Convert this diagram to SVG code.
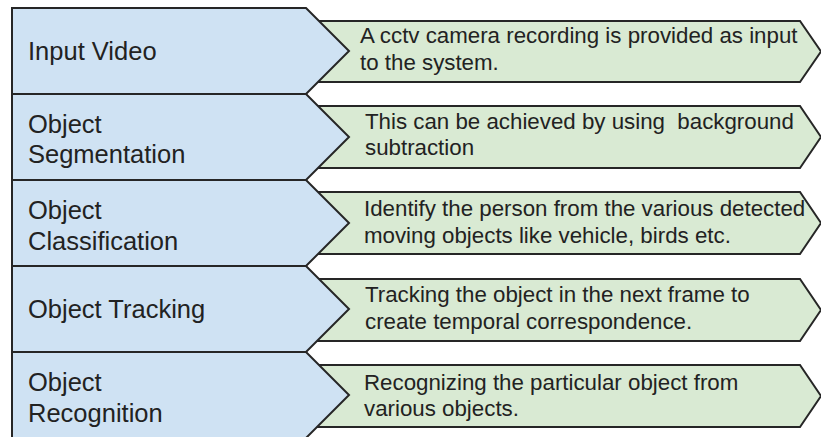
<svg xmlns="http://www.w3.org/2000/svg" width="821" height="437" viewBox="0 0 821 437">
<style>
.blue{fill:#cfe2f3;stroke:#262626;stroke-width:2;stroke-linejoin:miter}
.green{fill:#d9ead3;stroke:#262626;stroke-width:2;stroke-linejoin:miter}
.lbl{font-family:"Liberation Sans",Arial,sans-serif;font-size:25.5px;fill:#222}
.desc{font-family:"Liberation Sans",Arial,sans-serif;font-size:22.3px;fill:#222}
</style>
<rect width="821" height="437" fill="#ffffff"/>
<g id="connectors"></g>
<g id="desc1"><polygon class="green" points="300,21 800,21 821,51.5 800,82 300,82"/><text class="desc" x="360" y="43">A cctv camera recording is provided as input</text><text class="desc" x="360" y="70">to the system.</text></g>
<g id="desc2"><polygon class="green" points="300,106 800,106 821,137 800,168 300,168"/><text class="desc" x="365" y="129">This can be achieved by using &#160;background</text><text class="desc" x="365" y="155">subtraction</text></g>
<g id="desc3"><polygon class="green" points="300,192 800,192 821,223 800,254 300,254"/><text class="desc" x="364" y="216">Identify the person from the various detected</text><text class="desc" x="364" y="243">moving objects like vehicle, birds etc.</text></g>
<g id="desc4"><polygon class="green" points="300,279 800,279 821,310 800,341 300,341"/><text class="desc" x="365" y="302">Tracking the object in the next frame to</text><text class="desc" x="365" y="329">create temporal correspondence.</text></g>
<g id="desc5"><polygon class="green" points="300,365 800,365 821,396 800,427 300,427"/><text class="desc" x="364" y="390">Recognizing the particular object from</text><text class="desc" x="364" y="416">various objects.</text></g>
<g id="step1"><polygon class="blue" points="12,8 306,8 349,51 306,94 12,94"/><text class="lbl" x="28" y="60">Input Video</text></g>
<g id="step2"><polygon class="blue" points="12,94 306,94 349,137 306,180 12,180"/><text class="lbl" x="28" y="133">Object</text><text class="lbl" x="28" y="163">Segmentation</text></g>
<g id="step3"><polygon class="blue" points="12,180 306,180 349,223 306,266 12,266"/><text class="lbl" x="28" y="219">Object</text><text class="lbl" x="28" y="250">Classification</text></g>
<g id="step4"><polygon class="blue" points="12,266 306,266 349,309 306,352 12,352"/><text class="lbl" x="28" y="318">Object Tracking</text></g>
<g id="step5"><polygon class="blue" points="12,352 306,352 349,395 306,438 12,438"/><text class="lbl" x="28" y="391">Object</text><text class="lbl" x="28" y="422">Recognition</text></g>
</svg>
